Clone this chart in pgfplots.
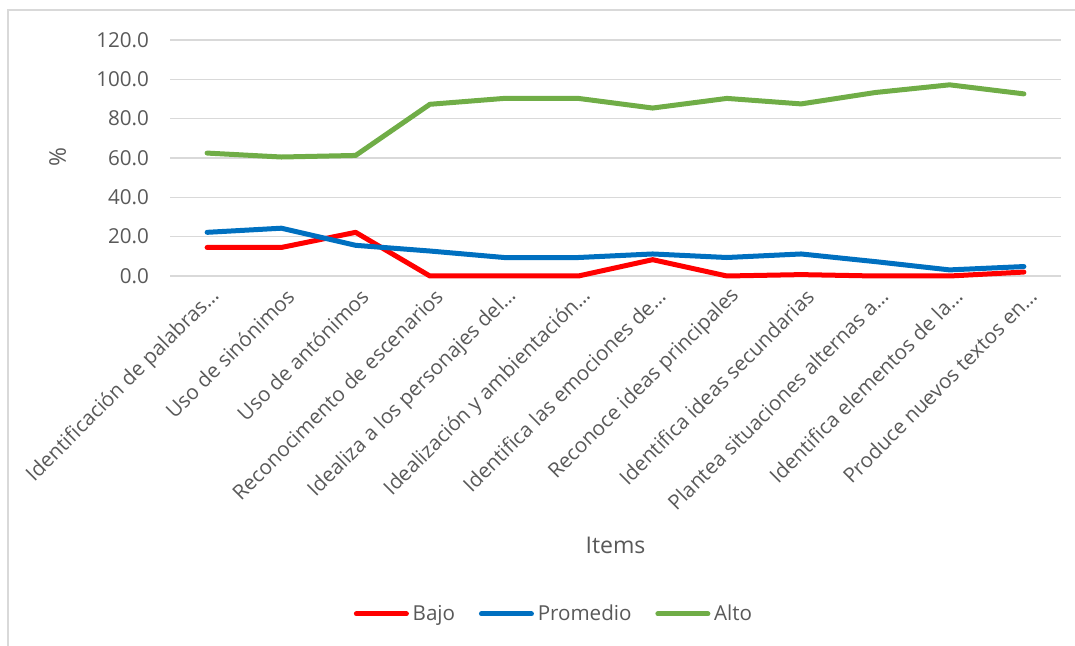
\documentclass[border=0pt]{standalone}
\usepackage{pgfplots}
\pgfplotsset{compat=1.18}
\usepackage{fontspec}
\setmainfont{Open Sans}
\definecolor{bajo}{HTML}{FF0000}
\definecolor{prom}{HTML}{0070C0}
\definecolor{alto}{HTML}{70AD47}
\definecolor{txt}{HTML}{595959}
\definecolor{gridc}{HTML}{D9D9D9}

\pgfplotstableread{
x bajo prom alto
0  14.5 22.2 62.5
1  14.5 24.3 60.5
2  22.2 15.6 61.3
3  0.0  12.7 87.3
4  0.0  9.4  90.3
5  0.0  9.4  90.3
6  8.3  11.2 85.4
7  0.0  9.4  90.3
8  0.7  11.2 87.5
9  0.0  7.3  93.3
10 0.0  3.1  97.2
11 2.0  4.8  92.6
}\datos

\begin{document}
\begin{tikzpicture}
\useasboundingbox (0,0) rectangle (537.5pt,323pt);
\draw[gridc, line width=0.75pt] (4pt,0) -- (4pt,318pt) -- (537.5pt,318pt);
\begin{axis}[
    at={(85pt,185pt)}, anchor=south west,
    scale only axis, width=445.5pt, height=118pt,
    xmin=-0.5, xmax=11.5, ymin=0, ymax=120,
    ytick={0,20,...,120},
    xtick={0,...,11},
    xticklabels={Identificación de palabras…, Uso de sinónimos, Uso de antónimos,
        Reconocimento de escenarios, Idealiza a los personajes del…,
        Idealización y ambientación…, Identifica las emociones de…,
        Reconoce ideas principales, Identifica ideas secundarias,
        Plantea situaciones alternas a…, Identifica elementos de la…,
        Produce nuevos textos en…},
    axis line style={draw=none},
    major tick length=0pt,
    ymajorgrids,
    grid style={gridc, line width=0.75pt},
    clip=false,
    tick label style={font=\fontsize{10.3}{12}\selectfont, text=txt},
    /pgf/number format/fixed,
    /pgf/number format/fixed zerofill,
    /pgf/number format/precision=1,
    /pgf/number format/assume math mode=true,
    yticklabel style={xshift=-7pt},
    xticklabel style={xshift=7pt, yshift=-6pt, rotate=45, anchor=east},
    ylabel={\%},
    ylabel style={at={(axis description cs:-0.126,0.504)}, anchor=center, font=\fontsize{11.5}{14}\selectfont, text=txt},
    xlabel={Items},
    xlabel style={at={(axis description cs:0.5,-1.14)}, anchor=center, font=\fontsize{11.5}{14}\selectfont, text=txt},
    legend columns=3,
    legend style={draw=none, at={(axis description cs:0.432,-1.432)}, anchor=center,
        font=\fontsize{10.3}{12}\selectfont, text=txt,
        nodes={inner xsep=1.9pt},
        /tikz/every even column/.append style={column sep=10pt}},
    legend image code/.code={\draw[#1, line cap=round] (0pt,0pt) -- (25pt,0pt);},
    every axis plot/.append style={line width=2.5pt, line cap=round, line join=round},
]
\addplot[bajo] table[x=x, y=bajo] {\datos};
\addplot[prom] table[x=x, y=prom] {\datos};
\addplot[alto] table[x=x, y=alto] {\datos};
\legend{Bajo, Promedio, Alto}
\end{axis}
\end{tikzpicture}
\end{document}
